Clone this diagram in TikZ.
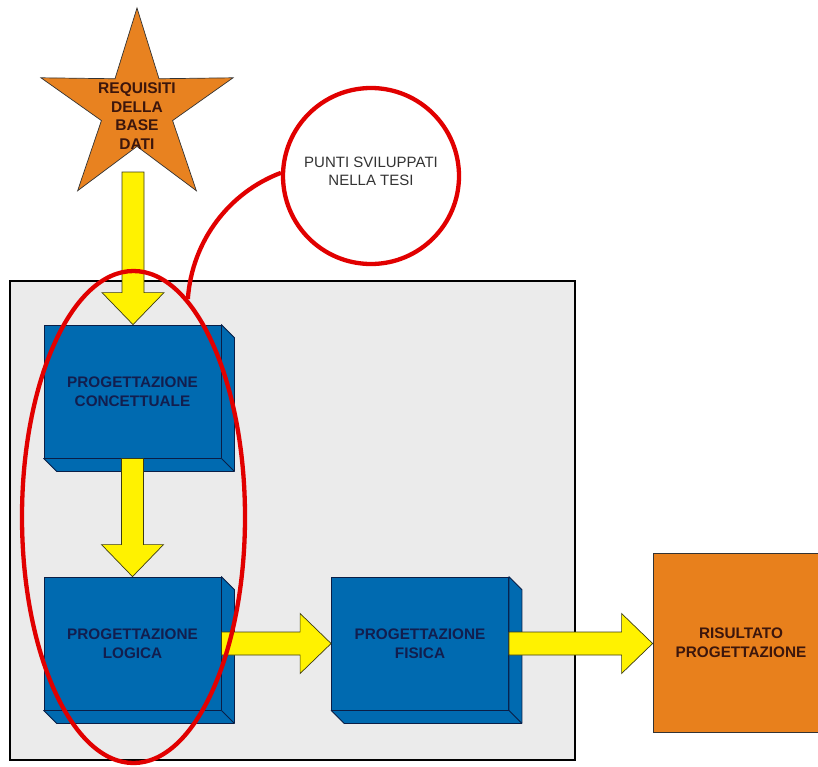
\documentclass[tikz,border=0pt]{standalone}
\usepackage{fontspec}
\setmainfont{Liberation Sans}
\usetikzlibrary{shapes.geometric,calc}
\definecolor{boxblue}{RGB}{0,106,176}
\definecolor{boxline}{RGB}{10,30,70}
\definecolor{boxtext}{RGB}{18,30,78}
\definecolor{starorange}{RGB}{232,130,32}
\definecolor{resorange}{RGB}{232,128,28}
\definecolor{browntext}{RGB}{60,22,12}
\definecolor{panelgrey}{RGB}{235,235,235}
\definecolor{redline}{RGB}{225,0,0}
\definecolor{arrowline}{RGB}{60,60,20}
\newcommand\extrude[1]{%
  \draw[sideface] (#1.north east) -- ++(13,13) -- ($(#1.south east)+(13,13)$) -- ($(#1.south west)+(13,13)$) -- (#1.south west) -- (#1.south east) -- cycle;
  \draw[sideface] (#1.south east) -- ++(13,13);}
\newcommand\varrow[2]{%
  \draw[yarrow] let \p1=(#1), \p2=(#2) in
    (\x1-11pt,\y1) -- (\x1-11pt,\y2+32pt) -- (\x1-31pt,\y2+32pt) -- (\x1,\y2)
    -- (\x1+31pt,\y2+32pt) -- (\x1+11pt,\y2+32pt) -- (\x1+11pt,\y1) -- cycle;}
\newcommand\harrow[2]{%
  \draw[yarrow] let \p1=(#1), \p2=(#2) in
    (\x1,\y1+11.5pt) -- (\x2-31pt,\y1+11.5pt) -- (\x2-31pt,\y1+30pt) -- (\x2,\y1)
    -- (\x2-31pt,\y1-30pt) -- (\x2-31pt,\y1-11.5pt) -- (\x1,\y1-11.5pt) -- cycle;}
\begin{document}
\begin{tikzpicture}[x=1pt,y=-1pt,
  frontbox/.style={draw=boxline, fill=boxblue, line width=0.8pt, minimum width=177pt, minimum height=133pt,
    inner sep=0pt, align=center, text=boxtext, font=\fontsize{15.3}{19}\selectfont\bfseries},
  sideface/.style={draw=boxline, fill=boxblue, line width=0.8pt, line join=round},
  yarrow/.style={draw=arrowline, fill=yellow, line width=0.7pt, line join=miter},
  redring/.style={draw=redline, line width=4.3pt}]
\useasboundingbox (0,0) rectangle (818,766);
\clip (0,0) rectangle (818,766);
\fill[white] (0,0) rectangle (818,766);
% panel
\draw[fill=panelgrey, line width=2.5pt] (10,281) rectangle (575,760);
% star
\node[star, star points=5, star point ratio=2.7, minimum size=202pt, inner sep=0pt,
      draw=black!80, line width=0.7pt, fill=starorange] (star) at (137,109) {};
\node[align=center, text=browntext, font=\fontsize{15.5}{18.5}\selectfont\bfseries] (startext) at (137,116)
  {REQUISITI\\DELLA\\BASE\\DATI};
% boxes
\node[frontbox] (b1) at (132.5,391.5) {PROGETTAZIONE\\CONCETTUALE};
\extrude{b1}
\node[frontbox] (b2) at (132.5,643.5) {PROGETTAZIONE\\LOGICA};
\extrude{b2}
\node[frontbox] (b3) at (420,643.5) {PROGETTAZIONE\\FISICA};
\extrude{b3}
% result
\node[draw=black!80, line width=0.8pt, fill=resorange, minimum width=176pt, minimum height=179pt, inner sep=0pt] (res) at (741,642.5) {};
\node[align=center, text=browntext, font=\fontsize{15.3}{19}\selectfont\bfseries] (restext) at (741,642.5)
  {RISULTATO\\PROGETTAZIONE};
% arrows
\coordinate (s1) at (133,172);
\varrow{s1}{b1.north}
\varrow{b1.south}{b2.north}
\harrow{b2.east}{b3.west}
\harrow{b3.east}{res.west}
% red ellipse and circle
\node[redring, ellipse, minimum width=223pt, minimum height=492pt, inner sep=0pt] (ell) at (133.5,517) {};
\node[redring, circle, fill=white, minimum size=176pt, inner sep=0pt] (circ) at (371,176) {};
\node[align=center, text=black!80, font=\fontsize{15}{18}\selectfont] (circtext) at (371,171)
  {PUNTI SVILUPPATI\\NELLA TESI};
\draw[redring] (circ.178) .. controls (230,192) and (192,240) .. (ell.76);
\end{tikzpicture}
\end{document}
